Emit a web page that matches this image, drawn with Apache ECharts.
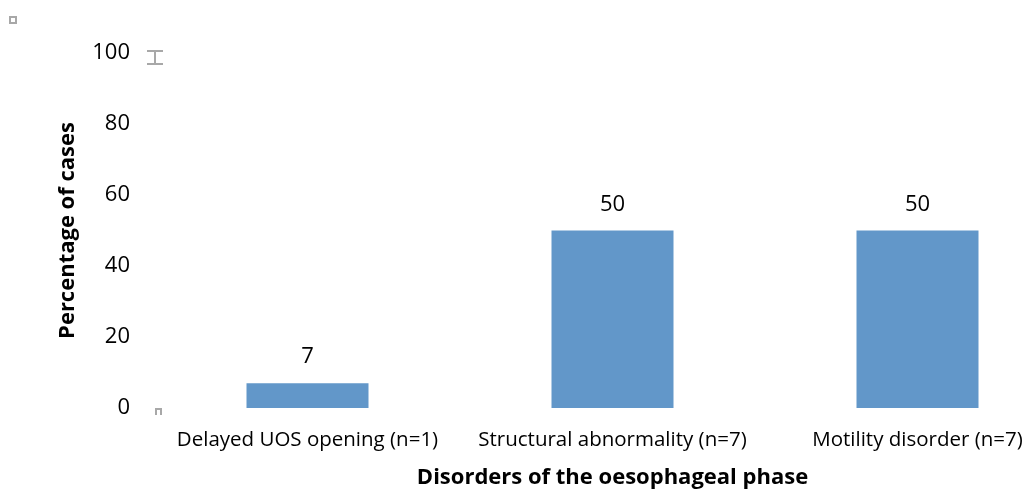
<!DOCTYPE html>
<html>
<head>
<meta charset="utf-8">
<script src="https://cdn.jsdelivr.net/npm/echarts@6/dist/echarts.min.js"></script>
<style>
  html, body { margin: 0; padding: 0; background: #fff; }
  #chart { width: 1031px; height: 493px; }
</style>
</head>
<body>
<div id="chart"></div>
<script>
// Oesophageal-phase disorders, share of cases
const categories = ['Delayed UOS opening (n=1)', 'Structural abnormality (n=7)', 'Motility disorder (n=7)'];
const percentages = [7, 50, 50];
const yTicks = { min: 0, max: 100, interval: 20 };

const FONT = '"Open Sans", sans-serif';
const chart = echarts.init(document.getElementById('chart'));

chart.setOption({
  animation: false,
  textStyle: { fontFamily: FONT },
  grid: { left: 155, width: 915, top: 53, height: 355, containLabel: false, outerBoundsMode: 'none' },
  xAxis: {
    type: 'category',
    data: categories,
    axisLine: { show: false },
    axisTick: { show: false },
    axisLabel: { color: '#000', fontSize: 20.5, margin: 22, interval: 0 },
    name: 'Disorders of the oesophageal phase',
    nameLocation: 'middle',
    nameGap: 59,
    nameTextStyle: { color: '#000', fontSize: 22, fontWeight: 'bold' }
  },
  yAxis: {
    type: 'value',
    min: yTicks.min,
    max: yTicks.max,
    interval: yTicks.interval,
    axisLine: { show: false },
    axisTick: { show: false },
    splitLine: { show: false },
    axisLabel: { color: '#000', fontSize: 22, margin: 25, padding: [6, 0, 0, 0] },
    name: 'Percentage of cases',
    nameLocation: 'middle',
    nameGap: 76,
    nameRotate: 90,
    nameTextStyle: { color: '#000', fontSize: 22, fontWeight: 'bold' }
  },
  series: [{
    type: 'bar',
    data: percentages,
    barWidth: '40%',
    itemStyle: { color: '#6297c9' },
    label: { show: true, position: 'top', distance: 15, color: '#000', fontSize: 22 }
  }],
  graphic: [
    { type: 'rect', shape: { x: 10, y: 17, width: 6, height: 6 },
      style: { fill: 'none', stroke: '#a8a8a8', lineWidth: 2 } },
    { type: 'polyline', shape: { points: [[147, 51], [163, 51]] }, style: { stroke: '#a8a8a8', lineWidth: 2 } },
    { type: 'polyline', shape: { points: [[147, 64], [163, 64]] }, style: { stroke: '#a8a8a8', lineWidth: 2 } },
    { type: 'polyline', shape: { points: [[155, 51], [155, 64]] }, style: { stroke: '#a8a8a8', lineWidth: 2 } },
    { type: 'polyline', shape: { points: [[156, 415], [156, 409], [161, 409], [161, 415]] },
      style: { stroke: '#a8a8a8', fill: 'none', lineWidth: 2 } }
  ]
});
</script>
</body>
</html>
